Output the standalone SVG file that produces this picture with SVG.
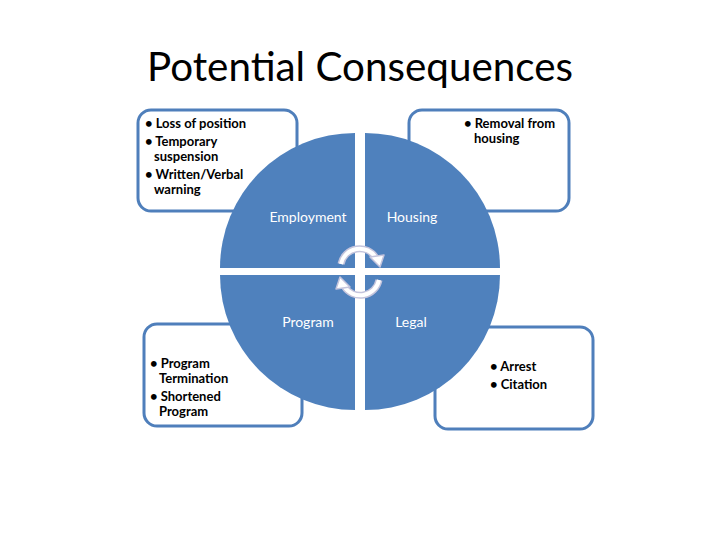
<svg xmlns="http://www.w3.org/2000/svg" width="720" height="540" viewBox="0 0 720 540">
<style>
.box{fill:#fff;stroke:#4f7fbb;stroke-width:3}
.q{fill:#4f81bd}
.bt{font-family:"Lato","Liberation Sans",sans-serif;font-size:13px;font-weight:bold;fill:#000}
.ql{font-family:"Lato","Liberation Sans",sans-serif;font-size:14px;fill:#fff}
.ao{fill:none;stroke:#c4c4dc;stroke-width:7}
.ai{fill:none;stroke:#fff;stroke-width:4}
.ah{fill:#fff;stroke:#c4c4dc;stroke-width:1.5;stroke-linejoin:round}
</style>
<rect width="720" height="540" fill="#fff"/>
<text x="360" y="81" text-anchor="middle" font-family="Lato,'Liberation Sans',sans-serif" font-size="40" fill="#000" textLength="426" lengthAdjust="spacingAndGlyphs">Potential Consequences</text>
<g id="box-employment"><rect class="box" x="138" y="110" width="159" height="101" rx="13"/>
<text class="bt" x="145" y="128">• Loss of position</text>
<text class="bt" x="145" y="146">• Temporary</text>
<text class="bt" x="154" y="161">suspension</text>
<text class="bt" x="145" y="179">• Written/Verbal</text>
<text class="bt" x="154" y="194">warning</text></g>
<g id="box-housing"><rect class="box" x="409" y="110" width="160" height="101" rx="13"/>
<text class="bt" x="464" y="128">• Removal from</text>
<text class="bt" x="474" y="143">housing</text></g>
<g id="box-program"><rect class="box" x="144" y="324" width="158" height="102" rx="13"/>
<text class="bt" x="150" y="368">• Program</text>
<text class="bt" x="159" y="383">Termination</text>
<text class="bt" x="150" y="401">• Shortened</text>
<text class="bt" x="159" y="416">Program</text></g>
<g id="box-legal"><rect class="box" x="435" y="327" width="158" height="102" rx="13"/>
<text class="bt" x="490" y="371">• Arrest</text>
<text class="bt" x="490" y="389">• Citation</text></g>
<g id="employment"><path class="q" d="M355 268 L220 268 A135 135 0 0 1 355 133 Z"/><text class="ql" x="308" y="222" text-anchor="middle">Employment</text></g>
<g id="housing"><path class="q" d="M365 268 L365 133 A135 135 0 0 1 500 268 Z"/><text class="ql" x="412" y="222" text-anchor="middle">Housing</text></g>
<g id="program"><path class="q" d="M355 275 L355 410 A135 135 0 0 1 220 275 Z"/><text class="ql" x="308" y="327" text-anchor="middle">Program</text></g>
<g id="legal"><path class="q" d="M365 275 L500 275 A135 135 0 0 1 365 410 Z"/><text class="ql" x="411" y="327" text-anchor="middle">Legal</text></g>
<g id="connectors">
<path class="ao" d="M341 264 A19 19 0 0 1 376 258"/>
<path class="ai" d="M341 264 A19 19 0 0 1 376 258"/>
<polygon class="ah" points="370,257 384,255 380,267"/>
<path class="ao" d="M379 280 A19 19 0 0 1 344 286"/>
<path class="ai" d="M379 280 A19 19 0 0 1 344 286"/>
<polygon class="ah" points="350,287 336,289 340,277"/>
</g>
</svg>
